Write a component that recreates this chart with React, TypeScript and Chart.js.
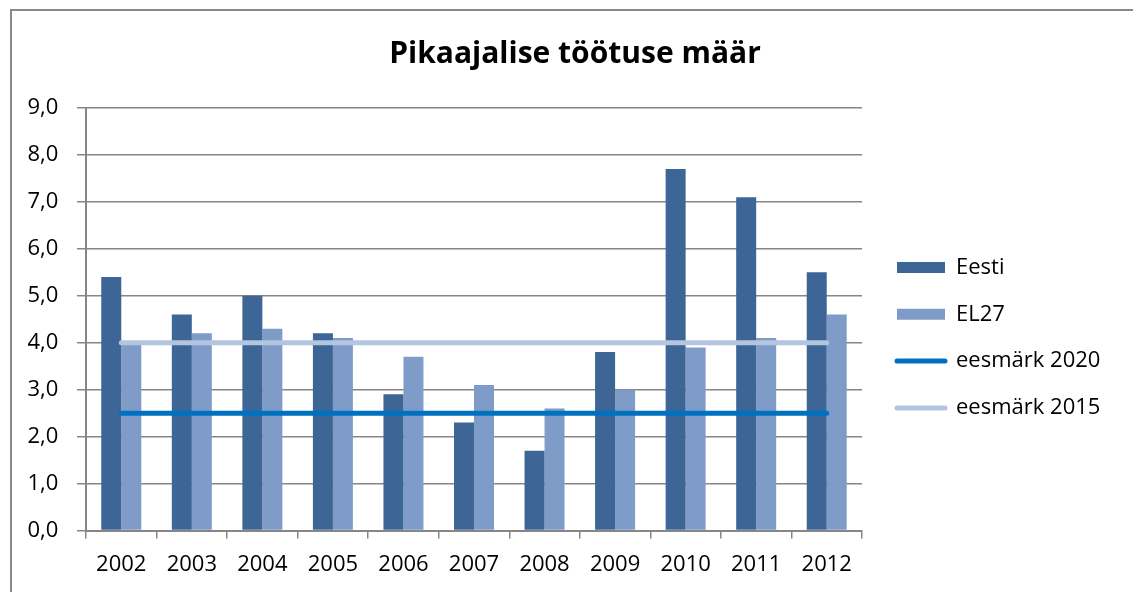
import React, { useEffect, useRef } from 'react';
import { Chart, registerables } from 'chart.js';

Chart.register(...registerables);

const years = ['2002', '2003', '2004', '2005', '2006', '2007', '2008', '2009', '2010', '2011', '2012'];
const eesti = [5.4, 4.6, 5.0, 4.2, 2.9, 2.3, 1.7, 3.8, 7.7, 7.1, 5.5];
const el27 = [4.0, 4.2, 4.3, 4.1, 3.7, 3.1, 2.6, 3.0, 3.9, 4.1, 4.6];
const eesmark2020 = [2.5, 2.5, 2.5, 2.5, 2.5, 2.5, 2.5, 2.5, 2.5, 2.5, 2.5];
const eesmark2015 = [4.0, 4.0, 4.0, 4.0, 4.0, 4.0, 4.0, 4.0, 4.0, 4.0, 4.0];
const yTicks = [0, 1, 2, 3, 4, 5, 6, 7, 8, 9];

const FONT = "'Open Sans', 'DejaVu Sans', sans-serif";
const GRID = '#868686';

export default function App() {
  const ref = useRef<HTMLCanvasElement | null>(null);

  useEffect(() => {
    if (!ref.current) return;
    const chart = new Chart(ref.current, {
      type: 'bar',
      data: {
        labels: years,
        datasets: [
          {
            type: 'bar',
            label: 'Eesti',
            data: eesti,
            backgroundColor: '#3D6595',
            borderWidth: 0,
            order: 2,
            categoryPercentage: 0.567,
            barPercentage: 1.0,
            yAxisID: 'y',
          } as any,
          {
            type: 'bar',
            label: 'EL27',
            data: el27,
            backgroundColor: '#7F9CC8',
            borderWidth: 0,
            order: 2,
            categoryPercentage: 0.567,
            barPercentage: 1.0,
            yAxisID: 'y',
          } as any,
          {
            type: 'line',
            label: 'eesmärk 2020',
            data: eesmark2020,
            borderColor: '#0070C0',
            backgroundColor: '#0070C0',
            borderWidth: 5,
            borderCapStyle: 'round',
            pointRadius: 0,
            pointHoverRadius: 0,
            order: 1,
            yAxisID: 'y',
          } as any,
          {
            type: 'line',
            label: 'eesmärk 2015',
            data: eesmark2015,
            borderColor: '#B3C5E0',
            backgroundColor: '#B3C5E0',
            borderWidth: 5,
            borderCapStyle: 'round',
            pointRadius: 0,
            pointHoverRadius: 0,
            order: 1,
            yAxisID: 'y',
          } as any,
        ],
      },
      options: {
        responsive: false,
        animation: false,
        events: [],
        devicePixelRatio: 1,
        layout: { padding: { left: 50, right: 33, top: 12, bottom: 10 } },
        scales: {
          x: {
            type: 'category',
            offset: true,
            grid: {
              display: true,
              drawOnChartArea: false,
              drawTicks: true,
              tickLength: 8,
              color: GRID,
              lineWidth: 1.5,
              offset: true,
            },
            border: { display: true, color: GRID, width: 2 },
            ticks: {
              padding: 12.7,
              color: '#000',
              font: { family: FONT, size: 22 },
              maxRotation: 0,
              autoSkip: false,
            },
            afterFit: (s: any) => {
              s.height = 51.5;
            },
          },
          y: {
            type: 'linear',
            position: 'left',
            min: 0,
            max: 9,
            afterBuildTicks: (s: any) => {
              s.ticks = yTicks.map((v) => ({ value: v }));
            },
            ticks: {
              mirror: true,
              crossAlign: 'near',
              padding: -58.5,
              color: '#000',
              font: { family: FONT, size: 22 },
              callback: (v: any) => Number(v).toFixed(1).replace('.', ','),
            },
            grid: { color: GRID, lineWidth: 1.5, tickLength: 9, drawTicks: true },
            border: { display: true, color: GRID, width: 2 },
            afterFit: (s: any) => {
              s.width = 36;
            },
          },
          y2: {
            type: 'linear',
            position: 'right',
            display: true,
            grid: { display: false, drawTicks: false },
            border: { display: false },
            ticks: { display: false },
            afterFit: (s: any) => {
              s.width = 10.2;
            },
          },
        },
        plugins: {
          title: {
            display: true,
            text: 'Pikaajalise töötuse määr',
            color: '#000',
            font: { family: FONT, size: 30, weight: 'bold', lineHeight: 1.2 },
            padding: { top: 24.5, bottom: 35.5 },
          },
          legend: {
            display: true,
            position: 'right',
            align: 'center',
            fullSize: false,
            maxWidth: 227.8,
            title: {
              display: true,
              text: ' ',
              font: { family: FONT, size: 10, lineHeight: 1 },
              padding: 13.45,
            },
            labels: {
              usePointStyle: true,
              pointStyleWidth: 48,
              boxHeight: 11,
              padding: 24.8,
              color: '#000',
              font: { family: FONT, size: 22 },
              sort: (a: any, b: any) => a.datasetIndex - b.datasetIndex,
              generateLabels: (c: any) => {
                const items = (Chart.defaults.plugins.legend.labels as any).generateLabels(c);
                return items.map((it: any) => {
                  const ds = c.data.datasets[it.datasetIndex];
                  if (ds.type === 'line') {
                    return {
                      ...it,
                      pointStyle: 'line',
                      lineWidth: 5,
                      lineCap: 'round',
                      strokeStyle: ds.borderColor,
                    };
                  }
                  return { ...it, pointStyle: 'rect', lineWidth: 0, fillStyle: ds.backgroundColor };
                });
              },
            },
          },
          tooltip: { enabled: false },
        },
      } as any,
    });
    return () => chart.destroy();
  }, []);

  return (
    <div style={{ position: 'absolute', left: 0, top: 0, width: 1133, height: 592, overflow: 'hidden', background: '#fff' }}>
      <div
        style={{
          position: 'absolute',
          left: 10,
          top: 9,
          width: 1200,
          height: 700,
          borderLeft: '2px solid #898989',
          borderTop: '2px solid #898989',
        }}
      />
      <canvas ref={ref} width={1133} height={592} style={{ position: 'absolute', left: 0, top: 0 }} />
    </div>
  );
}
